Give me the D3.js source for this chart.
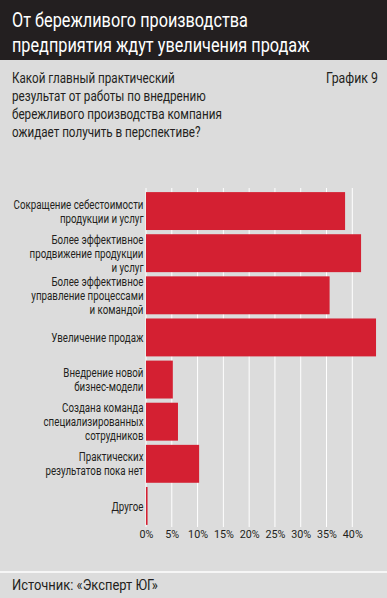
<!DOCTYPE html>
<html><head><meta charset="utf-8">
<script src="https://cdn.jsdelivr.net/npm/d3@7"></script>
<style>
html,body{margin:0;padding:0;background:#dcdcdc;}
svg{display:block;}
text{font-family:Roboto,"Liberation Sans",sans-serif;}
</style></head><body>
<svg id="c" width="387" height="598"></svg>
<script>
const titleLines = ["От бережливого производства", "предприятия ждут увеличения продаж"];
const questionLines = ["Какой главный практический", "результат от работы по внедрению", "бережливого производства компания", "ожидает получить в перспективе?"];
const chartLabel = "График 9";
const source = "Источник: «Эксперт ЮГ»";
const categories = [
  ["Сокращение себестоимости", "продукции и услуг"],
  ["Более эффективное", "продвижение продукции", "и услуг"],
  ["Более эффективное", "управление процессами", "и командой"],
  ["Увеличение продаж"],
  ["Внедрение новой", "бизнес-модели"],
  ["Создана команда", "специализированных", "сотрудников"],
  ["Практических", "результатов пока нет"],
  ["Другое"]
];
const values = [38.6, 41.7, 35.6, 44.6, 5.2, 6.2, 10.3, 0.3];
const ticks = [0, 5, 10, 15, 20, 25, 30, 35, 40];

const svg = d3.select("#c");
function condense(g, refNode, target, ax){
  const w = refNode.getComputedTextLength();
  const s = target / w;
  g.attr("transform", `translate(${ax},0) scale(${s},1) translate(${-ax},0)`);
  return s;
}

svg.append("rect").attr("x",0).attr("y",0).attr("width",387).attr("height",598).attr("fill","#dcdcdc");
svg.append("rect").attr("x",0).attr("y",0).attr("width",387).attr("height",60).attr("fill","#231f20");

const tg = svg.append("g");
const tt = tg.append("text").attr("fill","#fff").attr("font-size",20);
tt.selectAll("tspan").data(titleLines).join("tspan").attr("x",12).attr("y",(d,i)=>27+i*25).text(d=>d);
condense(tg, tt.select("tspan").node(), 236, 12);

const qg = svg.append("g");
const qt = qg.append("text").attr("fill","#231f20").attr("font-size",15.5);
qt.selectAll("tspan").data(questionLines).join("tspan").attr("x",12).attr("y",(d,i)=>83+i*18).text(d=>d);
condense(qg, qt.selectAll("tspan").nodes()[2], 210, 12);

const lg = svg.append("g");
const lt = lg.append("text").attr("x",378).attr("y",83).attr("text-anchor","end").attr("fill","#231f20").attr("font-size",15.5).text(chartLabel);
condense(lg, lt.node(), 52, 378);

const keys = categories.map((c,i)=>i);
const x = d3.scaleLinear().domain([0,40]).range([146,352.3]);
const y = d3.scaleBand().domain(keys).range([190,527]).paddingInner(0.1).paddingOuter(0.05);

svg.append("g").selectAll("line").data(ticks).join("line")
  .attr("x1",d=>x(d)).attr("x2",d=>x(d)).attr("y1",188).attr("y2",527)
  .attr("stroke","#fff").attr("stroke-width",1);

svg.append("g").selectAll("rect").data(values).join("rect")
  .attr("x",x(0)).attr("y",(d,i)=>y(i)).attr("height",y.bandwidth())
  .attr("width",d=>x(d)-x(0)).attr("fill","#d42032");

const lh = 14;
const lab = svg.append("g");
let refLabel = null;
categories.forEach((lines,i)=>{
  const cy = y(i)+y.bandwidth()/2;
  const t = lab.append("text").attr("text-anchor","end").attr("fill","#231f20").attr("font-size",13);
  const ts = t.selectAll("tspan").data(lines).join("tspan").attr("x",143.5)
    .attr("y",(d,j)=>cy - (lines.length-1)*lh/2 + j*lh + 4.6).text(d=>d);
  if(i===0) refLabel = ts.node();
});
condense(lab, refLabel, 130, 143.5);

const ax = d3.axisBottom(x).tickValues(ticks).tickFormat(d=>d+"%").tickSize(0).tickPadding(0);
const g = svg.append("g").attr("transform","translate(0,530)").call(ax);
g.select(".domain").remove();
g.selectAll("text").attr("font-size",11.5).attr("fill","#231f20").attr("dy","0.71em")
  .style("font-family",'Roboto,"Liberation Sans",sans-serif');
const tk = g.selectAll("text").nodes();
const sTick = 20 / tk[tk.length-1].getComputedTextLength();
g.selectAll("text").attr("transform",`scale(${sTick},1)`);

svg.append("line").attr("x1",0).attr("x2",387).attr("y1",572).attr("y2",572).attr("stroke","#fff").attr("stroke-width",1.5);
const fg = svg.append("g");
const ft = fg.append("text").attr("x",12).attr("y",590).attr("fill","#231f20").attr("font-size",15.5).text(source);
condense(fg, ft.node(), 146, 12);
</script>
</body></html>
